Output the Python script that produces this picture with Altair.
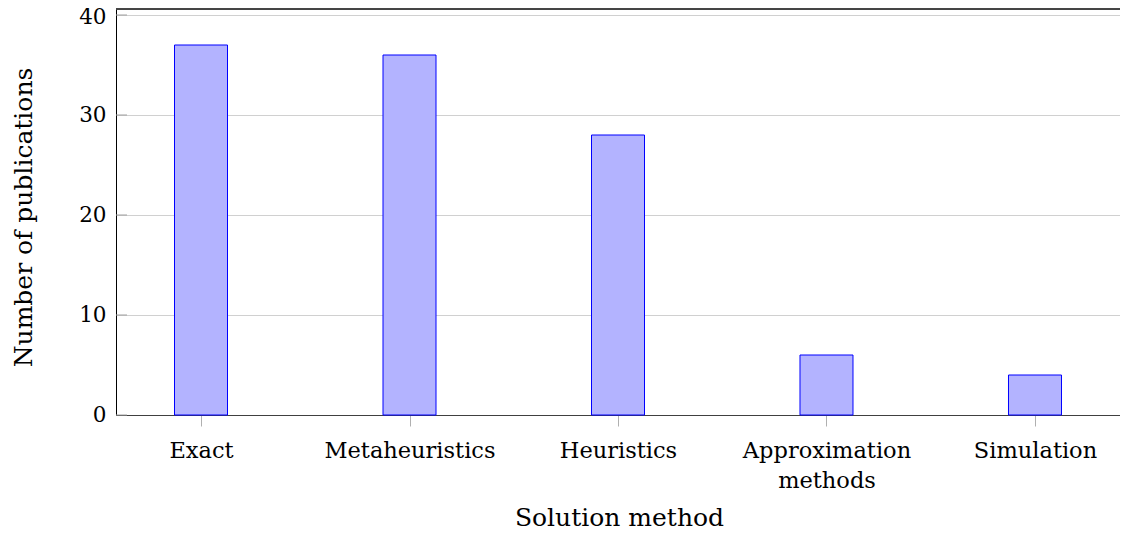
import altair as alt
import pandas as pd

methods = ["Exact", "Metaheuristics", "Heuristics", "Approximation\nmethods", "Simulation"]
counts = [37, 36, 28, 6, 4]
y_ticks = [0, 10, 20, 30, 40]

FONT = "DejaVu Serif"
W, H = 1004, 406

bars_df = pd.DataFrame({"method": methods, "count": counts})
ticks_df = pd.DataFrame({"v": y_ticks})

x_enc = alt.X(
    "method:N",
    sort=methods,
    scale=alt.Scale(type="point", padding=0.4077),
    axis=alt.Axis(
        title="Solution method",
        labelAngle=0,
        labelExpr="split(datum.label, '\\n')",
        labelFont=FONT,
        labelFontSize=22.5,
        labelColor="#000000",
        labelBaseline="alphabetic",
        labelLineHeight=30,
        labelPadding=31,
        tickSize=11,
        tickColor="#b0b0b0",
        tickWidth=1,
        domainColor="#404040",
        domainWidth=1,
        grid=False,
        titleFont=FONT,
        titleFontSize=25,
        titleFontWeight="normal",
        titleColor="#000000",
        titleBaseline="alphabetic",
        titleX=503,
        titleY=110,
    ),
)

y_enc = alt.Y(
    "count:Q",
    scale=alt.Scale(domain=[0, 40.6], nice=False, zero=True),
    axis=alt.Axis(
        title="Number of publications",
        values=y_ticks,
        ticks=False,
        labelFont=FONT,
        labelFontSize=21.5,
        labelColor="#000000",
        labelPadding=10,
        labelOffset={"condition": {"test": "datum.value == 40", "value": 2}, "value": 0},
        domainColor="#000000",
        domainWidth=1,
        grid=True,
        gridColor="#d0d0d0",
        gridWidth=1,
        titleFont=FONT,
        titleFontSize=25,
        titleFontWeight="normal",
        titleColor="#000000",
        titleBaseline="alphabetic",
        titleAngle=270,
        titleX=-85,
        titleY=208,
    ),
)

bars = alt.Chart(bars_df).mark_bar(
    size=53, fill="#b3b3ff", stroke="#0000ff", strokeWidth=1
).encode(x=x_enc, y=y_enc)

inner_ticks = alt.Chart(ticks_df).mark_rule(color="#a0a0a0", strokeWidth=1).encode(
    y=alt.Y("v:Q"), x=alt.value(0), x2=alt.value(11)
)

top_border = alt.Chart(ticks_df).mark_rule(color="#404040", strokeWidth=1).encode(
    y=alt.value(0), x=alt.value(0), x2=alt.value(W)
)

chart = (
    alt.layer(bars, inner_ticks, top_border)
    .properties(
        width=W,
        height=H,
        autosize=alt.AutoSizeParams(type="none"),
        padding={"left": 108, "top": 1, "right": 0, "bottom": 120},
    )
    .configure_view(strokeWidth=0, stroke="transparent")
    .configure(background="white")
)

chart.save("out.html", embed_options={"renderer": "svg", "actions": False})
